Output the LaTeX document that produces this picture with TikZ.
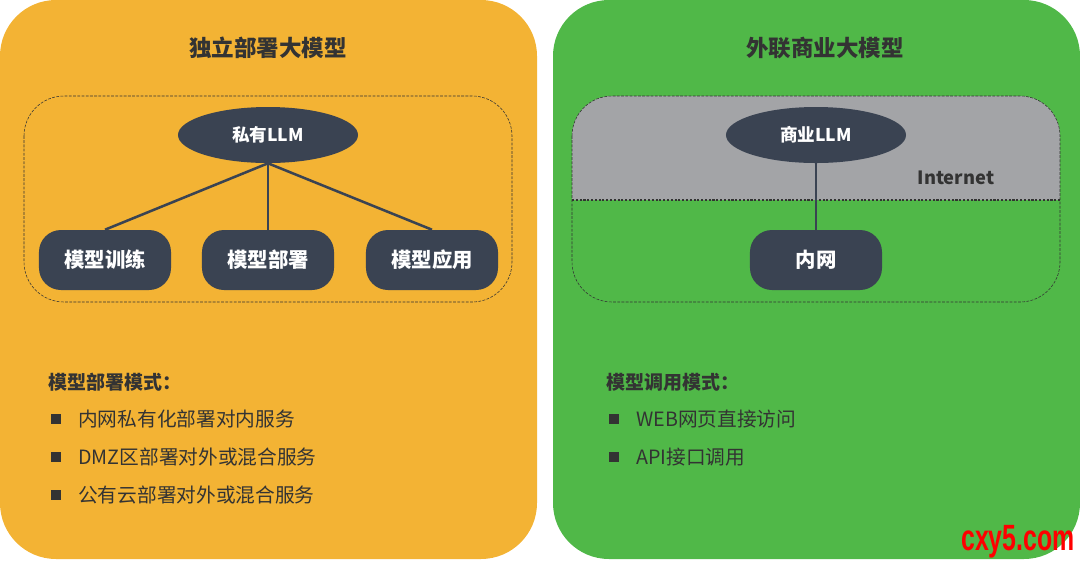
\documentclass[tikz,border=0pt]{standalone}
\usepackage{fontspec}
\setmainfont{Noto Sans CJK SC}
\newfontfamily\wmfont{Liberation Sans}
\usepackage{xcolor}
\usetikzlibrary{shapes.geometric, positioning}
\definecolor{panelorange}{HTML}{F3B334}
\definecolor{panelgreen}{HTML}{50B848}
\definecolor{nodedark}{HTML}{3A4352}
\definecolor{bandgrey}{HTML}{A3A4A7}
\definecolor{textdark}{HTML}{333333}

\begin{document}
\begin{tikzpicture}[x=0.025cm, y=-0.025cm,
  llm/.style={ellipse, fill=nodedark, text=white, minimum width=4.5cm, minimum height=1.4cm,
    inner sep=0pt, font=\bfseries\fontsize{12.5}{14}\selectfont},
  task/.style={rectangle, rounded corners=0.55cm, fill=nodedark, text=white, minimum width=3.3cm,
    minimum height=1.5cm, inner sep=0pt, font=\bfseries\fontsize{14.5}{16}\selectfont},
  title/.style={text=textdark, font=\bfseries\fontsize{16}{18}\selectfont},
  head/.style={anchor=west, inner sep=0pt, text=textdark, font=\bfseries\fontsize{13.5}{15}\selectfont},
  item/.style={anchor=west, inner sep=0pt, text=textdark, font=\fontsize{14}{16}\selectfont},
  bullet/.style={rectangle, fill=textdark, minimum size=0.27cm, inner sep=0pt},
  zone/.style={draw=textdark, dashed, dash pattern=on 2pt off 1pt, thin, rounded corners=1cm},
  link/.style={draw=nodedark, line width=1.8pt}]
\useasboundingbox (0,0) rectangle (1080,562);

% panels
\fill[panelorange, rounded corners=1.4cm] (0,0) rectangle (537,559);
\fill[panelgreen, rounded corners=1.4cm] (553,0) rectangle (1080,559);

% left: private deployment
\node[title] (lefttitle) at (268,48) {独立部署大模型};
\draw[zone] (24,96) rectangle (512,302);
\node[llm] (private) at (268,135) {私有LLM};
\node[task] (train) at (105,260) {模型训练};
\node[task] (deploy) at (268,260) {模型部署};
\node[task] (apply) at (432,260) {模型应用};
\draw[link] (private.south) -- (train.north);
\draw[link] (private.south) -- (deploy.north);
\draw[link] (private.south) -- (apply.north);

\node[head] (lefthead) at (48,382) {模型部署模式：};
\node[bullet] (lb1) at (56,419) {};
\node[item] (li1) at (78,419) {内网私有化部署对内服务};
\node[bullet] (lb2) at (56,457) {};
\node[item] (li2) at (78,457) {DMZ区部署对外或混合服务};
\node[bullet] (lb3) at (56,495) {};
\node[item] (li3) at (78,495) {公有云部署对外或混合服务};

% right: commercial model
\node[title] (righttitle) at (825,48) {外联商业大模型};
\begin{scope}
  \clip[rounded corners=1cm] (572,96) rectangle (1060,302);
  \fill[bandgrey] (572,96) rectangle (1060,200);
\end{scope}
\draw[zone] (572,96) rectangle (1060,302);
\draw[textdark, line width=1.6pt, dash pattern=on 1.5pt off 1.2pt] (572,200) -- (1060,200);
\node[text=textdark, font=\bfseries\fontsize{13}{15}\selectfont] (inet) at (956,178) {Internet};
\node[llm] (commercial) at (816,135) {商业LLM};
\node[task] (intranet) at (816,260) {内网};
\draw[link] (commercial.south) -- (intranet.north);

\node[head] (righthead) at (606,382) {模型调用模式：};
\node[bullet] (rb1) at (614,419) {};
\node[item] (ri1) at (636,419) {WEB网页直接访问};
\node[bullet] (rb2) at (614,457) {};
\node[item] (ri2) at (636,457) {API接口调用};

% watermark
\node[text=red, xscale=0.68, font=\wmfont\bfseries\fontsize{26}{28}\selectfont] (mark) at (1018,542) {cxy5.com};
\end{tikzpicture}
\end{document}
